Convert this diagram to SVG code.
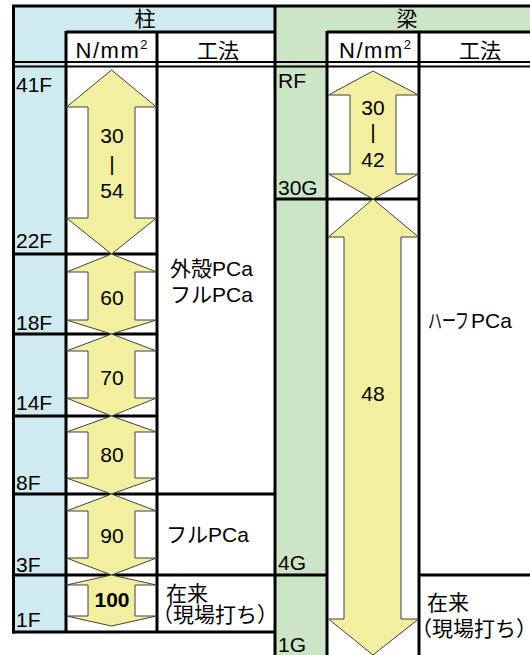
<svg xmlns="http://www.w3.org/2000/svg" width="530" height="655" viewBox="0 0 530 655">
<style>
text{font-family:"Liberation Sans","Noto Sans CJK JP",sans-serif;font-size:21px;fill:#000}
.c{text-anchor:middle}
.b{font-weight:bold}
.u{font-size:22px}
.ln{stroke:#000;stroke-width:3;fill:none}
.ln2{stroke:#000;stroke-width:2;fill:none}
.arw{fill:#F3EFA0;stroke:#404040;stroke-width:1}
.blue{fill:#D0EBF0}
.green{fill:#CDE5C7}
</style>
<rect width="530" height="655" fill="#fff"/>
<g id="backgrounds">
<rect class="blue" x="14" y="6" width="261" height="26"/>
<rect class="blue" x="14" y="6" width="52" height="626"/>
<rect class="green" x="275" y="6" width="255" height="26"/>
<rect class="green" x="275" y="6" width="52" height="649"/>
</g>
<g id="grid">
<line class="ln" x1="12" y1="6" x2="530" y2="6"/>
<line class="ln" x1="13.5" y1="5" x2="13.5" y2="633.5"/>
<line class="ln" x1="275" y1="5" x2="275" y2="655"/>
<line class="ln" x1="12" y1="632" x2="276" y2="632"/>
<line class="ln" x1="66" y1="31" x2="66" y2="632"/>
<line class="ln" x1="157" y1="31" x2="157" y2="632"/>
<line class="ln" x1="66" y1="32" x2="275" y2="32"/>
<line class="ln" x1="327" y1="32" x2="530" y2="32"/>
<line class="ln2" x1="12" y1="62" x2="530" y2="62"/>
<line class="ln2" x1="12" y1="66.5" x2="530" y2="66.5"/>
<line class="ln" x1="13" y1="254" x2="157" y2="254"/>
<line class="ln" x1="13" y1="334" x2="157" y2="334"/>
<line class="ln" x1="13" y1="416" x2="157" y2="416"/>
<line class="ln" x1="13" y1="494" x2="275" y2="494"/>
<line class="ln" x1="13" y1="575" x2="327" y2="575"/>
<line class="ln" x1="419" y1="575" x2="530" y2="575"/>
<line class="ln" x1="327" y1="31" x2="327" y2="655"/>
<line class="ln" x1="419" y1="31" x2="419" y2="655"/>
<line class="ln" x1="275" y1="199" x2="419" y2="199"/>
</g>
<g id="arrows">
<path id="arrow-30-54" class="arw" d="M111.5,70 L156.5,107 L135,107 L135,218 L156.5,218 L111.5,254 L66.5,218 L88,218 L88,107 L66.5,107 Z"/>
<path id="arrow-60" class="arw" d="M111.5,254 L156.5,272 L135,272 L135,320 L156.5,320 L111.5,334 L66.5,320 L88,320 L88,272 L66.5,272 Z"/>
<path id="arrow-70" class="arw" d="M111.5,334 L156.5,351 L135,351 L135,398 L156.5,398 L111.5,416 L66.5,398 L88,398 L88,351 L66.5,351 Z"/>
<path id="arrow-80" class="arw" d="M111.5,416 L156.5,432 L135,432 L135,478 L156.5,478 L111.5,494 L66.5,478 L88,478 L88,432 L66.5,432 Z"/>
<path id="arrow-90" class="arw" d="M111.5,494 L156.5,511 L135,511 L135,558 L156.5,558 L111.5,575 L66.5,558 L88,558 L88,511 L66.5,511 Z"/>
<path id="arrow-100" class="arw" d="M111.5,575 L156.5,585 L135,585 L135,616 L156.5,616 L111.5,626 L66.5,616 L88,616 L88,585 L66.5,585 Z"/>
<path id="arrow-30-42" class="arw" d="M373,71 L418.5,95 L396,95 L396,174 L418.5,174 L373,199 L328.5,174 L350,174 L350,95 L328.5,95 Z"/>
<path id="arrow-48" class="arw" d="M373,199 L418.5,237 L401,237 L401,619 L418.5,619 L373,655 L328.5,619 L344,619 L344,237 L328.5,237 Z"/>
</g>
<g id="header-col">
<text class="c" x="145" y="26">柱</text>
<text class="c u" x="111.5" y="58" textLength="72">N/mm<tspan font-size="13" dy="-9">2</tspan></text>
<text class="c" x="218" y="58">工法</text>
</g>
<g id="header-beam">
<text class="c" x="407" y="26">梁</text>
<text class="c u" x="375" y="58" textLength="72">N/mm<tspan font-size="13" dy="-9">2</tspan></text>
<text class="c" x="480" y="58">工法</text>
</g>
<g id="floors-col">
<text x="16" y="92">41F</text>
<text x="16" y="248">22F</text>
<text x="16" y="330">18F</text>
<text x="16" y="410">14F</text>
<text x="16" y="490">8F</text>
<text x="16" y="572">3F</text>
<text x="16" y="627">1F</text>
</g>
<g id="floors-beam">
<text x="278" y="88">RF</text>
<text x="278" y="195">30G</text>
<text x="278" y="570">4G</text>
<text x="278" y="652">1G</text>
</g>
<g id="strength-col">
<text class="c" x="112" y="143">30</text>
<text class="c" x="112" y="171">|</text>
<text class="c" x="112" y="198">54</text>
<text class="c" x="112" y="305">60</text>
<text class="c" x="112" y="385">70</text>
<text class="c" x="112" y="462">80</text>
<text class="c" x="112" y="543">90</text>
<text class="c b" x="112" y="607">100</text>
</g>
<g id="strength-beam">
<text class="c" x="373" y="115">30</text>
<text class="c" x="373" y="139">|</text>
<text class="c" x="373" y="167">42</text>
<text class="c" x="373" y="401">48</text>
</g>
<g id="method-col">
<text x="170" y="276">外殻PCa</text>
<text x="170" y="302">フルPCa</text>
<text x="166" y="542">フルPCa</text>
<text x="166" y="601">在来</text>
<text x="152" y="622">（現場打ち）</text>
</g>
<g id="method-beam">
<text x="428" y="328"><tspan textLength="41" lengthAdjust="spacingAndGlyphs">ハーフ</tspan><tspan x="471">PCa</tspan></text>
<text x="427" y="610">在来</text>
<text x="411" y="636">（現場打ち）</text>
</g>
</svg>
